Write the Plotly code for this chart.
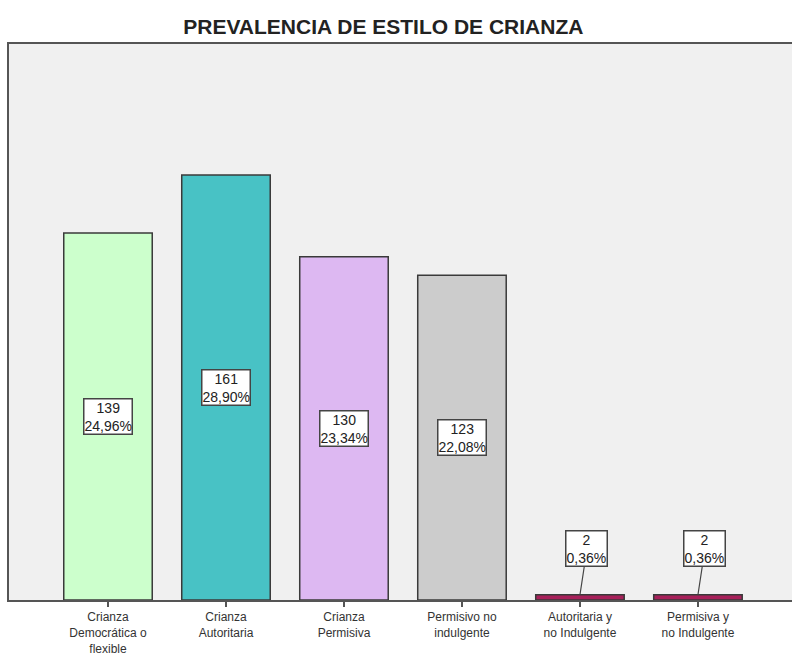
import plotly.graph_objects as go

categories = ["Crianza<br>Democrática o<br>flexible", "Crianza<br>Autoritaria", "Crianza<br>Permisiva",
              "Permisivo no<br>indulgente", "Autoritaria y<br>no Indulgente", "Permisiva y<br>no Indulgente"]
counts = [139, 161, 130, 123, 2, 2]
percents = ["24,96%", "28,90%", "23,34%", "22,08%", "0,36%", "0,36%"]
colors = ["#ccffcc", "#48c2c5", "#ddb8f2", "#cccccc", "#a8205a", "#a8205a"]

x = list(range(len(categories)))

fig = go.Figure(go.Bar(
    x=x, y=counts, width=0.75,
    marker=dict(color=colors, line=dict(color="#3a3a3a", width=1.5)),
    hoverinfo="skip",
))

annotations = []
for i, (c, p) in enumerate(zip(counts, percents)):
    txt = f"{c}<br>{p}"
    common = dict(text=txt, font=dict(family="Liberation Sans, Arial", size=14, color="#222"),
                  bgcolor="white", bordercolor="#444", borderwidth=1.5, borderpad=0,
                  xref="x", yref="y")
    if c > 20:
        annotations.append(dict(x=i, y=c / 2, showarrow=False, **common))
    else:
        annotations.append(dict(x=i, y=c, showarrow=True, arrowhead=0, arrowwidth=1.2,
                                arrowcolor="#444", ax=7, ay=-46, **common))

fig.update_layout(
    width=792, height=655,
    margin=dict(l=9, r=0, t=44, b=55, autoexpand=False),
    paper_bgcolor="white", plot_bgcolor="#f0f0f0",
    showlegend=False,
    title=dict(text="<b>PREVALENCIA DE ESTILO DE CRIANZA</b>", x=0.484, xanchor="center",
               y=0.959, yanchor="middle",
               font=dict(family="Liberation Sans, Arial", size=21, color="#222")),
    annotations=annotations,
    xaxis=dict(range=[-0.839, 5.797], tickmode="array", tickvals=x, ticktext=categories,
               showline=True, linecolor="#555", linewidth=2, mirror=True, automargin=False,
               ticks="outside", ticklen=5, tickcolor="#555", tickwidth=1.5,
               tickfont=dict(family="Liberation Sans, Arial", size=12, color="#333"),
               showgrid=False, zeroline=False, fixedrange=True),
    yaxis=dict(range=[0, 210.6], showline=True, linecolor="#555", linewidth=2, automargin=False,
               showticklabels=False, ticks="", showgrid=False, zeroline=False, fixedrange=True),
)

fig.write_html("out.html", config={"displayModeBar": False},
               post_script="document.body.style.margin='0';document.body.style.overflow='hidden';")
